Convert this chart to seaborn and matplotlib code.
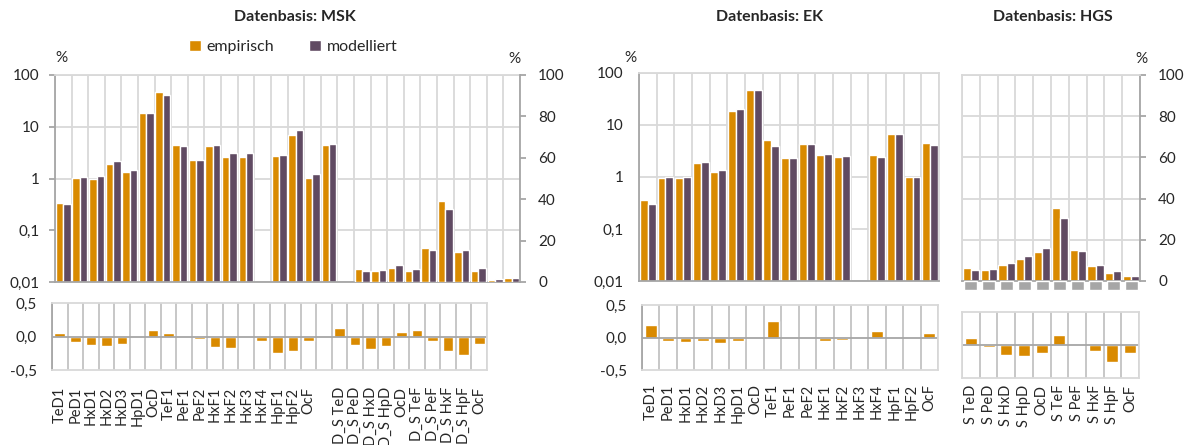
import numpy as np
import pandas as pd
import matplotlib
matplotlib.use("Agg")
import matplotlib.pyplot as plt
import seaborn as sns

ORANGE = "#D98A00"
LILA = "#604A62"
GITTER = "#D9D9D9"
ACHSE = "#A6A6A6"
GRAU = "#A6A6A6"

# --- Datenbasis MSK ---
msk_log_labels = ["TeD1", "PeD1", "HxD1", "HxD2", "HxD3", "HpD1", "OcD", "TeF1", "PeF1",
                  "PeF2", "HxF1", "HxF2", "HxF3", "HxF4", "HpF1", "HpF2", "OcF"]
msk_log_emp = [0.34, 1.01, 0.98, 1.88, 1.34, 18.2, 46.3, 4.5, 2.28, 4.3, 2.63, 2.57, np.nan,
               2.72, 6.84, 1.01, 4.37]
msk_log_mod = [0.32, 1.08, 1.10, 2.15, 1.46, 18.5, 41.7, 4.25, 2.28, 4.5, 3.1, 3.05, np.nan,
               2.87, 8.65, 1.24, 4.64]
msk_lin_labels = ["D_S TeD", "D_S PeD", "D_S HxD", "D_S HpD", "OcD", "D_S TeF", "D_S PeF",
                  "D_S HxF", "D_S HpF", "OcF"]
msk_lin_emp = [6.3, 5.3, 6.9, 5.3, 16.4, 39.2, 14.6, 5.3, 1.1, 1.9]
msk_lin_mod = [5.4, 5.9, 8.2, 6.3, 15.3, 35.5, 15.6, 6.6, 1.6, 2.1]
msk_diff = [0.055, -0.075, -0.125, -0.145, -0.105, -0.025, 0.10, 0.055, -0.005, -0.035,
            -0.155, -0.17, np.nan, -0.065, -0.25, -0.215, -0.065,
            np.nan,
            0.125, -0.125, -0.185, -0.135, 0.06, 0.10, -0.065, -0.22, -0.275, -0.105]

# --- Datenbasis EK ---
ek_labels = msk_log_labels
ek_emp = [0.36, 0.94, 0.94, 1.86, 1.27, 18.8, 46.3, 5.25, 2.33, 4.4, 2.62, 2.47, np.nan,
          2.66, 6.76, 1.0, 4.45]
ek_mod = [0.297, 1.0, 1.01, 1.95, 1.38, 19.9, 47.0, 4.03, 2.28, 4.4, 2.74, 2.57, np.nan,
          2.39, 6.66, 1.0, 4.2]
ek_diff = [0.195, -0.055, -0.065, -0.05, -0.08, -0.06, -0.005, 0.255, 0.005, -0.01,
           -0.05, -0.04, np.nan, 0.095, 0.005, -0.01, 0.065]

# --- Datenbasis HGS ---
hgs_labels = ["S TeD", "S PeD", "S HxD", "S HpD", "OcD", "S TeF", "S PeF", "S HxF", "S HpF", "OcF"]
hgs_emp = [6.1, 5.5, 7.6, 10.8, 14.2, 35.3, 15.0, 7.4, 3.9, 2.3]
hgs_mod = [5.3, 5.8, 8.7, 12.3, 16.0, 30.4, 14.7, 7.9, 4.9, 2.4]
hgs_grau = [-4.2, -4.2, -4.2, -4.2, -4.2, -4.2, -4.2, -4.2, -4.2, -4.2]
hgs_diff = [0.10, -0.035, -0.145, -0.16, -0.115, 0.145, 0.01, -0.085, -0.25, -0.125]


def lang(keys, emp, mod):
    return pd.DataFrame({"key": list(keys) * 2,
                         "wert": list(emp) + list(mod),
                         "reihe": ["empirisch"] * len(keys) + ["modelliert"] * len(keys)})


def gitter_x(ax, n, farbe=GITTER):
    # senkrechte Linien an den Kategoriegrenzen
    ax.set_xlim(-0.5, n - 0.5)
    ax.set_xticks(np.arange(-0.5, n), minor=True)
    ax.tick_params(axis="x", which="minor", length=0)
    ax.xaxis.grid(True, which="minor", color=farbe, lw=1.3)
    ax.set_axisbelow(True)


def spines(ax, left=ACHSE, bottom=ACHSE, top=GITTER, right=GITTER):
    for s, c in zip(["left", "bottom", "top", "right"], [left, bottom, top, right]):
        if c is None:
            ax.spines[s].set_visible(False)
        else:
            ax.spines[s].set_color(c)
            ax.spines[s].set_linewidth(1.3)


def log_achse(ax):
    ax.set_yscale("log")
    ax.set_ylim(0.01, 100)
    ax.set_yticks([0.01, 0.1, 1, 10, 100])
    ax.set_yticklabels(["0,01", "0,1", "1", "10", "100"])
    ax.yaxis.set_minor_locator(matplotlib.ticker.NullLocator())
    ax.yaxis.grid(True, which="major", color=GITTER, lw=1.3)
    ax.tick_params(axis="y", length=4, color=ACHSE, width=1.3, pad=7, labelsize=11)
    ax.tick_params(axis="x", which="major", length=0, labelbottom=False)
    ax.set_xlabel("")
    ax.set_ylabel("")


def diff_panel(ax, keys, diff, labels, pad, ticklabels=True):
    n = len(keys)
    sns.barplot(x=keys, y=diff, order=keys, color=ORANGE, width=0.68, ax=ax, saturation=1)
    ax.set_xlim(-0.5, n - 0.5)
    ax.set_ylim(-0.5, 0.5)
    ax.set_xticks(range(n))
    ax.set_xticklabels(labels, rotation=90, fontsize=10.5)
    ax.tick_params(axis="x", which="major", length=0, pad=pad)
    if ticklabels:
        ax.set_yticks([-0.5, 0, 0.5])
        ax.set_yticklabels(["-0,5", "0,0", "0,5"])
        ax.tick_params(axis="y", length=4, color=ACHSE, width=1.3, pad=7, labelsize=11)
    else:
        ax.set_yticks([0])
        ax.tick_params(axis="y", length=4, color=ACHSE, width=1.3, labelleft=False)
    ax.axhline(0, color=ACHSE, lw=1.3, zorder=1)
    # Kategoriegrenzen zusaetzlich als Linien im Datenraum
    ax.vlines(np.arange(0.5, n - 0.5), -0.5, 0.5, colors="#C8C8C8", lw=1.4, zorder=0.8)
    spines(ax, left=ACHSE if ticklabels else GITTER, bottom=GITTER)
    ax.set_xlabel("")
    ax.set_ylabel("")
    gitter_x(ax, n, farbe="#C8C8C8")


sns.set_style("white")
plt.rcParams["font.family"] = ["Lato", "DejaVu Sans"]

fig = plt.figure(figsize=(11.87, 4.45), dpi=100)
W, H = 1187, 445


def box(x0, y0, x1, y1):
    return [x0 / W, 1 - y1 / H, (x1 - x0) / W, (y1 - y0) / H]


palette = {"empirisch": ORANGE, "modelliert": LILA}

# ---------------- MSK ----------------
msk_keys = [f"m{i}" for i in range(28)]
axd = fig.add_axes(box(52, 303, 487, 370))
diff_panel(axd, msk_keys, msk_diff, msk_log_labels + [""] + msk_lin_labels, pad=12)

ax = fig.add_axes(box(55, 75, 520, 282))
ax.set_yscale("log")
sns.barplot(data=lang(msk_keys[:17], msk_log_emp, msk_log_mod), x="key", y="wert",
            hue="reihe", order=msk_keys, palette=palette, width=0.9, saturation=1, ax=ax)
handles, labels = ax.get_legend_handles_labels()
if ax.get_legend():
    ax.get_legend().remove()
log_achse(ax)
gitter_x(ax, 28)
spines(ax, right=None)

ax2 = ax.twinx()
sns.barplot(data=lang(msk_keys[18:], msk_lin_emp, msk_lin_mod), x="key", y="wert",
            hue="reihe", order=msk_keys, palette=palette, width=0.9, saturation=1,
            ax=ax2, legend=False)
ax2.set_xlim(-0.5, 27.5)
ax2.set_ylim(0, 100)
ax2.set_yticks(range(0, 101, 20))
ax2.tick_params(axis="y", length=4, color=ACHSE, width=1.3, pad=9, labelsize=11)
ax2.set_ylabel("")
ax2.grid(False)
for s in ["left", "bottom", "top"]:
    ax2.spines[s].set_visible(False)
ax2.spines["right"].set_color(ACHSE)
ax2.spines["right"].set_linewidth(1.3)

fig.text(295 / W, 1 - 17 / H, "Datenbasis: MSK", ha="center", va="center",
         fontsize=11.5, fontweight="bold")
fig.text(61 / W, 1 - 58 / H, "%", ha="center", va="center", fontsize=11)
fig.text(514 / W, 1 - 59 / H, "%", ha="center", va="center", fontsize=11)
fig.legend(handles, labels, loc="center", bbox_to_anchor=(293 / W, 1 - 47 / H), ncol=2,
           frameon=False, fontsize=11.5, handlelength=0.75, handleheight=0.75,
           handletextpad=0.35, columnspacing=2.2, borderpad=0)

# ---------------- EK ----------------
ek_keys = [f"e{i}" for i in range(17)]
axed = fig.add_axes(box(642, 305, 938, 370))
diff_panel(axed, ek_keys, ek_diff, ek_labels, pad=10)

axe = fig.add_axes(box(639, 73, 939, 281))
axe.set_yscale("log")
sns.barplot(data=lang(ek_keys, ek_emp, ek_mod), x="key", y="wert", hue="reihe",
            order=ek_keys, palette=palette, width=0.9, saturation=1, ax=axe, legend=False)
log_achse(axe)
gitter_x(axe, 17)
spines(axe)

fig.text(770 / W, 1 - 17 / H, "Datenbasis: EK", ha="center", va="center",
         fontsize=11.5, fontweight="bold")
fig.text(630 / W, 1 - 58 / H, "%", ha="center", va="center", fontsize=11)

# ---------------- HGS ----------------
hgs_keys = [f"h{i}" for i in range(10)]
axhd = fig.add_axes(box(962, 312, 1139, 378))
diff_panel(axhd, hgs_keys, hgs_diff, hgs_labels, pad=5, ticklabels=False)

axh = fig.add_axes(box(962, 75, 1140, 281))
sns.barplot(data=lang(hgs_keys, hgs_emp, hgs_mod), x="key", y="wert", hue="reihe",
            order=hgs_keys, palette=palette, width=0.92, saturation=1, ax=axh, legend=False)
axh.bar(range(10), hgs_grau, width=0.72, color=GRAU, clip_on=False, zorder=3)
axh.set_ylim(0, 100)
axh.yaxis.tick_right()
axh.set_yticks(range(0, 101, 20))
axh.yaxis.grid(True, which="major", color=GITTER, lw=1.3)
axh.tick_params(axis="y", length=4, color=ACHSE, width=1.3, pad=9, labelsize=11)
axh.tick_params(axis="x", which="major", length=0, labelbottom=False)
axh.set_xlabel("")
axh.set_ylabel("")
gitter_x(axh, 10)
spines(axh, left=GITTER, bottom=ACHSE, right=ACHSE)

fig.text(1053 / W, 1 - 17 / H, "Datenbasis: HGS", ha="center", va="center",
         fontsize=11.5, fontweight="bold")
fig.text(1141 / W, 1 - 59 / H, "%", ha="center", va="center", fontsize=11)

fig.savefig("out.png", dpi=100)
